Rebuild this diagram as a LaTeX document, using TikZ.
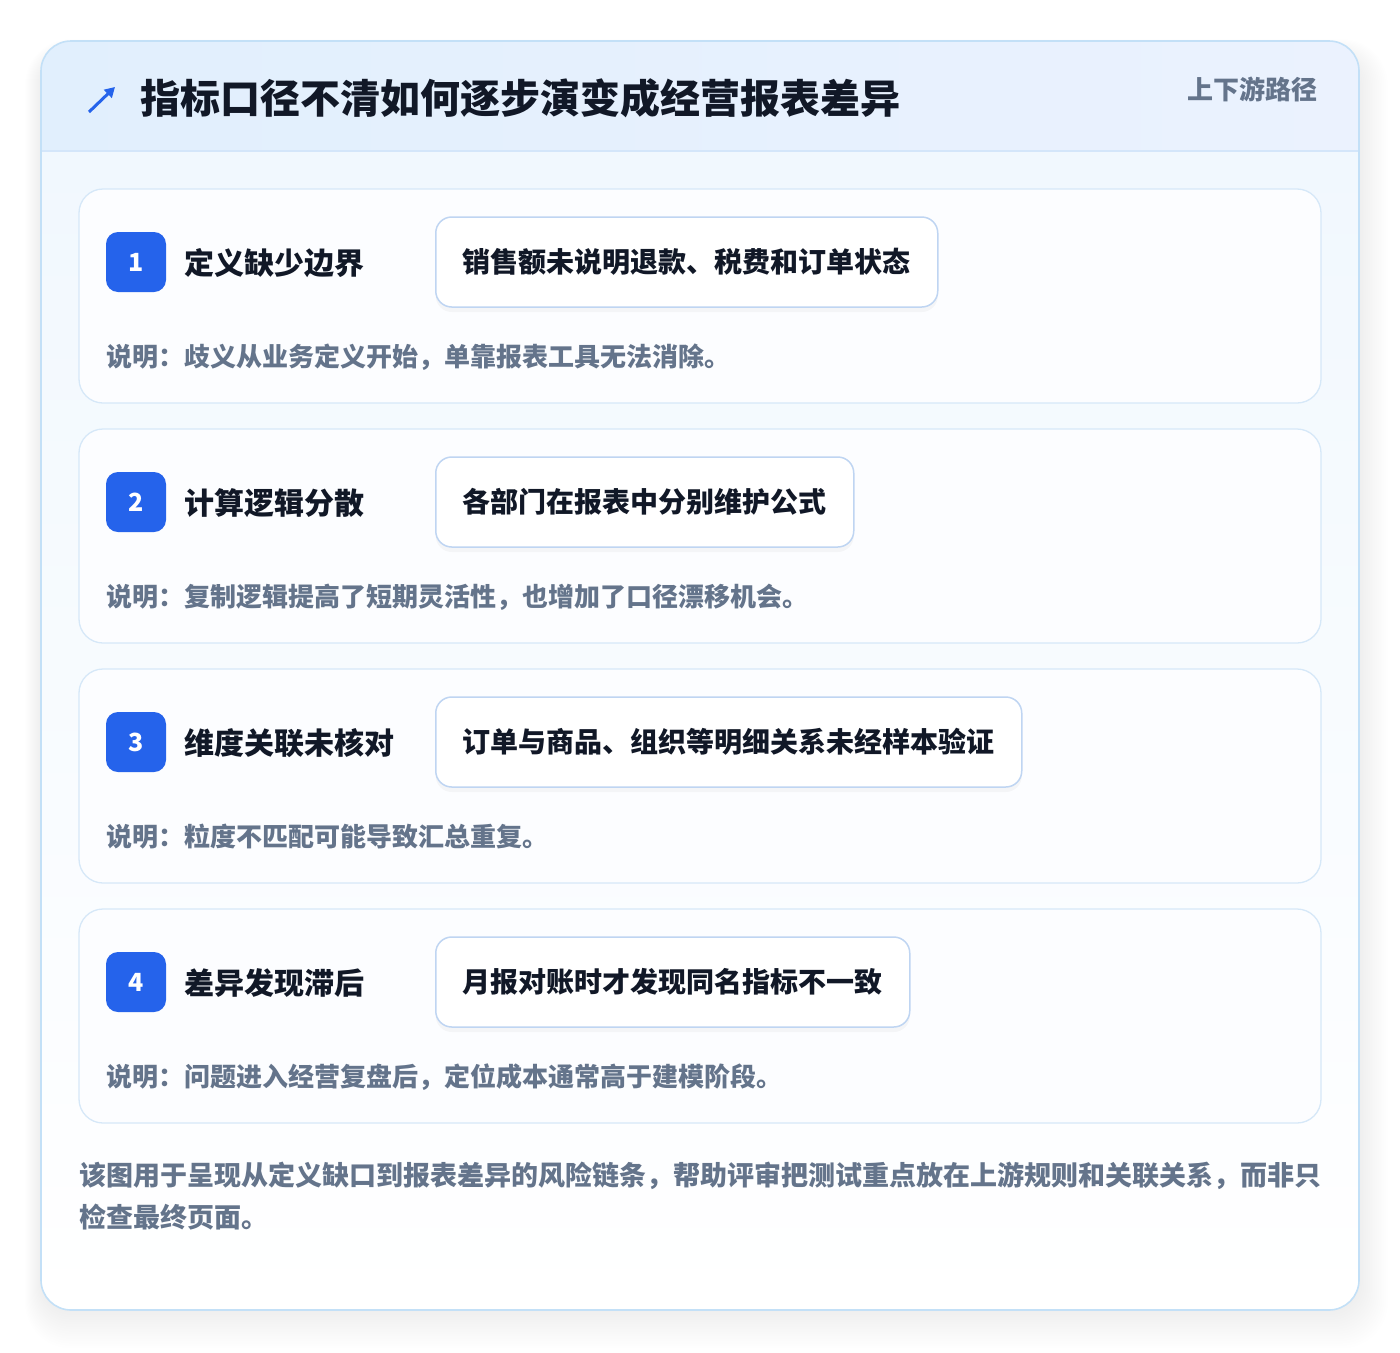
\documentclass[tikz,border=0pt]{standalone}
\usepackage{fontspec}
\setmainfont{Noto Sans CJK SC}
\usetikzlibrary{positioning,shadows,arrows.meta}

\definecolor{cardline}{HTML}{C3E0F7}
\definecolor{headA}{HTML}{E1EFFD}
\definecolor{headB}{HTML}{EBF2FE}
\definecolor{headline}{HTML}{D4E6FA}
\definecolor{bodytop}{HTML}{F1F8FE}
\definecolor{stepline}{HTML}{D6E8F8}
\definecolor{stepfill}{HTML}{FCFDFF}
\definecolor{pillline}{HTML}{BFD5F2}
\definecolor{badgeblue}{HTML}{2563EB}
\definecolor{inkdark}{HTML}{111827}
\definecolor{notegray}{HTML}{64748B}

\tikzset{
	stepcard/.style={draw=stepline, line width=1.3pt, fill=stepfill, rounded corners=24},
	badge/.style={fill=badgeblue, rounded corners=12, minimum width=60, minimum height=60, inner sep=0, text=white, font=\fontsize{25}{25}\selectfont\bfseries},
	steptitle/.style={anchor=west, inner sep=0, text=inkdark, font=\fontsize{30}{30}\selectfont\bfseries},
	pill/.style={draw=pillline, line width=1.5pt, fill=white, rounded corners=16, minimum height=90, inner xsep=27, anchor=west, text=inkdark, font=\fontsize{28}{28}\selectfont\bfseries,
		drop shadow={shadow xshift=0pt, shadow yshift=-5pt, opacity=0.03, fill=black}},
	notetext/.style={anchor=west, inner sep=0, text=notegray, font=\fontsize{26}{26}\selectfont\bfseries},
}

\begin{document}
\begin{tikzpicture}[x=1pt, y=-1pt]
		%%%%% START %%%%%
		\useasboundingbox (0, 0) rectangle (1400, 1352);
		\fill[white] (0, 0) rectangle (1400, 1352);
		
		% soft shadow of the panel
		\foreach \s in {1,...,16}
			\fill[black, opacity=0.005, rounded corners=30+\s] (41-\s, 41-\s+14) rectangle (1359+\s*1.8, 1310+\s*2.4);
		
		% panel: header band and body
		\begin{scope}
			\clip[rounded corners=30] (41, 41) rectangle (1359, 1310);
			\fill[left color=headA, right color=headB] (41, 41) rectangle (1359, 151);
			\fill[top color=bodytop, bottom color=white] (41, 151) rectangle (1359, 1310);
		\end{scope}
		\draw[headline, line width=1.3pt] (41, 151) -- (1359, 151);
		\draw[cardline, line width=1.6pt, rounded corners=30] (41, 41) rectangle (1359, 1310);
		
		% icon
		\draw[badgeblue, line width=3pt, -{Triangle[length=10, width=11]}] (89, 112) -- (115, 87);
		\node[anchor=west, inner sep=0, text=inkdark, font=\fontsize{40}{40}\selectfont\bfseries] (heading) at (140, 98) {指标口径不清如何逐步演变成经营报表差异};
		\node[anchor=east, inner sep=0, text=notegray, font=\fontsize{26}{26}\selectfont\bfseries] (tag) at (1318, 89) {上下游路径};
		
		% the four steps
		\foreach \n/\ttl/\pilltxt/\note in {
			1/{定义缺少边界}/{销售额未说明退款、税费和订单状态}/{说明：歧义从业务定义开始，单靠报表工具无法消除。},
			2/{计算逻辑分散}/{各部门在报表中分别维护公式}/{说明：复制逻辑提高了短期灵活性，也增加了口径漂移机会。},
			3/{维度关联未核对}/{订单与商品、组织等明细关系未经样本验证}/{说明：粒度不匹配可能导致汇总重复。},
			4/{差异发现滞后}/{月报对账时才发现同名指标不一致}/{说明：问题进入经营复盘后，定位成本通常高于建模阶段。}}
		{
			\pgfmathsetmacro\ytop{189+240*(\n-1)}
			\draw[stepcard] (79, \ytop) rectangle (1321, \ytop+214);
			\node[badge] (badge\n) at (136, \ytop+73) {\n};
			\node[steptitle] (title\n) at (184, \ytop+74) {\ttl};
			\node[pill] (pill\n) at (435, \ytop+73) {\pilltxt};
			\node[notetext] (note\n) at (106, \ytop+168) {\note};
		}
		
		\node[anchor=west, inner sep=0, align=left, text=notegray, font=\fontsize{27}{42}\selectfont\bfseries] (summary) at (79, 1196)
			{该图用于呈现从定义缺口到报表差异的风险链条，帮助评审把测试重点放在上游规则和关联关系，而非只\\检查最终页面。};
		%%%%% END %%%%%
\end{tikzpicture}
\end{document}
